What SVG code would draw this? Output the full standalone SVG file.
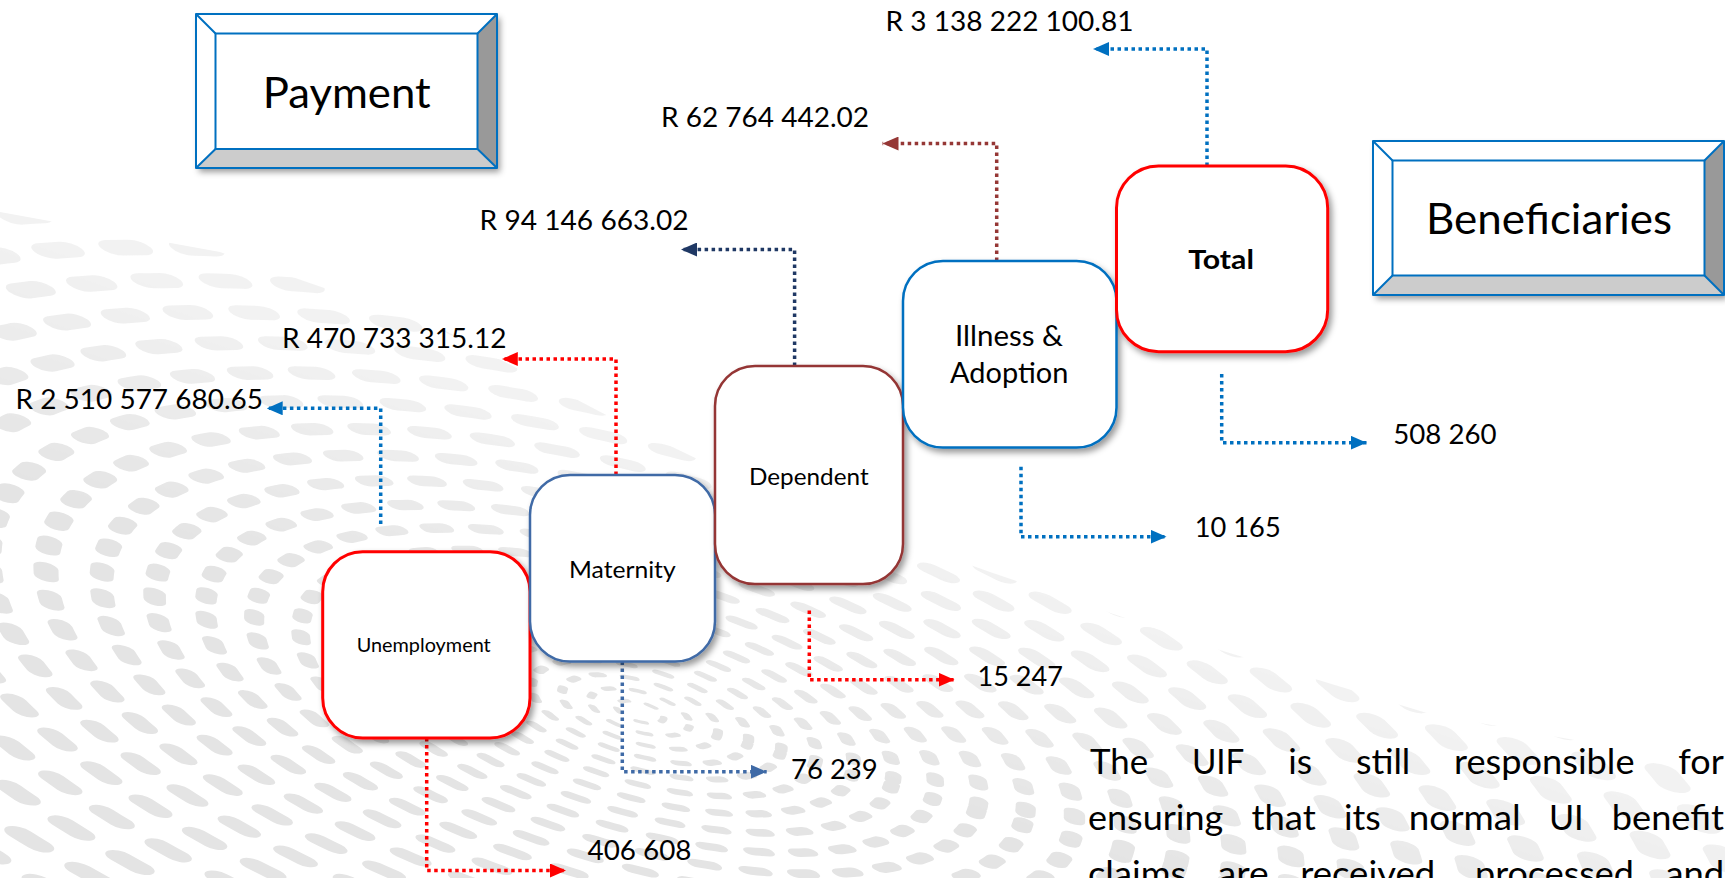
<svg xmlns="http://www.w3.org/2000/svg" width="1725" height="878" viewBox="0 0 1725 878">
<style>
.lbl{font-family:Lato,"Open Sans","Liberation Sans",sans-serif;fill:#000}
.val{font-size:27px}
.par{font-size:34px}
.node{fill:#fff;filter:url(#sh)}
.bev{stroke:#0070C0;stroke-width:2;stroke-linejoin:round}
.con{fill:none;stroke-width:3.5;stroke-dasharray:3.5 3.5}
.ring{fill:none;stroke:#e4e4e4;stroke-linecap:round}
</style>
<defs>
<filter id="sh" x="-20%" y="-20%" width="140%" height="140%">
<feDropShadow dx="3" dy="4" stdDeviation="3" flood-color="#000" flood-opacity="0.4"/>
</filter>
<clipPath id="bgclip">
<polygon points="0,212 220,252 440,328 610,417 770,494 990,572 1210,647 1430,714 1725,767 1725,878 0,878"/>
</clipPath>
<linearGradient id="fadeG" gradientUnits="userSpaceOnUse" x1="900" y1="530" x2="820" y2="760">
<stop offset="0" stop-color="#777"/>
<stop offset="1" stop-color="#fff"/>
</linearGradient>
<mask id="fade"><rect x="0" y="0" width="1725" height="878" fill="url(#fadeG)"/></mask>
<marker id="aBlue" viewBox="0 0 16 14" refX="16" refY="7" markerWidth="16" markerHeight="14" markerUnits="userSpaceOnUse" orient="auto"><path d="M0,0 L16,7 L0,14 z" fill="#0070C0"/></marker>
<marker id="aRed" viewBox="0 0 16 14" refX="16" refY="7" markerWidth="16" markerHeight="14" markerUnits="userSpaceOnUse" orient="auto"><path d="M0,0 L16,7 L0,14 z" fill="#FF0000"/></marker>
<marker id="aSlate" viewBox="0 0 16 14" refX="16" refY="7" markerWidth="16" markerHeight="14" markerUnits="userSpaceOnUse" orient="auto"><path d="M0,0 L16,7 L0,14 z" fill="#3F6AA6"/></marker>
<marker id="aNavy" viewBox="0 0 16 14" refX="16" refY="7" markerWidth="16" markerHeight="14" markerUnits="userSpaceOnUse" orient="auto"><path d="M0,0 L16,7 L0,14 z" fill="#1F3864"/></marker>
<marker id="aBrown" viewBox="0 0 16 14" refX="16" refY="7" markerWidth="16" markerHeight="14" markerUnits="userSpaceOnUse" orient="auto"><path d="M0,0 L16,7 L0,14 z" fill="#953735"/></marker>
</defs>
<rect x="0" y="0" width="1725" height="878" fill="#fff"/>

<g id="background" clip-path="url(#bgclip)" mask="url(#fade)">
<g transform="translate(640 712) rotate(16) scale(2.6 1)">
<circle class="ring" r="9.45" stroke-width="3" stroke-dasharray="3.35 8.2"/>
<circle class="ring" r="19.8" stroke-width="3.5" stroke-dasharray="3.7 8.9"/>
<circle class="ring" r="31.05" stroke-width="4" stroke-dasharray="4.05 9.6"/>
<circle class="ring" r="43.2" stroke-width="4.5" stroke-dasharray="4.4 10.3"/>
<circle class="ring" r="56.25" stroke-width="5" stroke-dasharray="4.75 11"/>
<circle class="ring" r="70.2" stroke-width="5.5" stroke-dasharray="5.1 11.7"/>
<circle class="ring" r="85.05" stroke-width="6" stroke-dasharray="5.45 12.4"/>
<circle class="ring" r="100.8" stroke-width="6.5" stroke-dasharray="5.8 13.1"/>
<circle class="ring" r="117.45" stroke-width="7" stroke-dasharray="6.15 13.8"/>
<circle class="ring" r="135" stroke-width="7.5" stroke-dasharray="6.5 14.5"/>
<circle class="ring" r="153.45" stroke-width="8" stroke-dasharray="6.85 15.2"/>
<circle class="ring" r="172.8" stroke-width="8.5" stroke-dasharray="7.2 15.9"/>
<circle class="ring" r="193.05" stroke-width="9" stroke-dasharray="7.55 16.6"/>
<circle class="ring" r="214.2" stroke-width="9.5" stroke-dasharray="7.9 17.3"/>
<circle class="ring" r="236.25" stroke-width="10" stroke-dasharray="8.25 18"/>
<circle class="ring" r="259.2" stroke-width="10.5" stroke-dasharray="8.6 18.7"/>
<circle class="ring" r="283.05" stroke-width="11" stroke-dasharray="8.95 19.4"/>
<circle class="ring" r="307.8" stroke-width="11.5" stroke-dasharray="9.3 20.1"/>
<circle class="ring" r="333.45" stroke-width="12" stroke-dasharray="9.65 20.8"/>
<circle class="ring" r="360" stroke-width="12.5" stroke-dasharray="10 21.5"/>
<circle class="ring" r="387.45" stroke-width="13" stroke-dasharray="10.35 22.2"/>
<circle class="ring" r="415.8" stroke-width="13.5" stroke-dasharray="10.7 22.9"/>
<circle class="ring" r="445" stroke-width="14" stroke-dasharray="11 23.6"/>
</g>
</g>

<g id="connectors">
<path class="con" stroke="#0070C0" marker-end="url(#aBlue)" d="M380.7,524 V408.3 H266.7"/>
<path class="con" stroke="#FF0000" marker-end="url(#aRed)" d="M426.7,738 V870.5 H566"/>
<path class="con" stroke="#FF0000" marker-end="url(#aRed)" d="M616,475 V359 H501.8"/>
<path class="con" stroke="#3F6AA6" marker-end="url(#aSlate)" d="M622.3,661.5 V771.7 H766.7"/>
<path class="con" stroke="#1F3864" marker-end="url(#aNavy)" d="M794.6,366 V249.5 H681"/>
<path class="con" stroke="#FF0000" marker-end="url(#aRed)" d="M809.3,610.5 V679.7 H954.5"/>
<path class="con" stroke="#953735" marker-end="url(#aBrown)" d="M996.7,261 V143.5 H882.5"/>
<path class="con" stroke="#0070C0" marker-end="url(#aBlue)" d="M1021,466.7 V536.7 H1166.5"/>
<path class="con" stroke="#0070C0" marker-end="url(#aBlue)" d="M1207,166 V49 H1093"/>
<path class="con" stroke="#0070C0" marker-end="url(#aBlue)" d="M1221.7,374 V442.7 H1366.7"/>
</g>

<g id="payment-box">
<g filter="url(#sh)">
<rect x="196" y="14" width="301" height="154" fill="#fff"/>
</g>
<polygon points="196,14 497,14 477.5,33.5 215.5,33.5" fill="#fff"/>
<polygon points="196,14 215.5,33.5 215.5,149 196,168" fill="#fff"/>
<polygon points="497,14 497,168 477.5,149 477.5,33.5" fill="#999"/>
<polygon points="196,168 215.5,149 477.5,149 497,168" fill="#ccc"/>
<rect class="bev" x="196" y="14" width="301" height="154" fill="none"/>
<rect class="bev" x="215.5" y="33.5" width="262" height="115.5" fill="#fff"/>
<path class="bev" d="M196,14 L215.5,33.5 M497,14 L477.5,33.5 M196,168 L215.5,149 M497,168 L477.5,149"/>
<text class="lbl" x="262.7" y="108.3" font-size="42" textLength="168" lengthAdjust="spacingAndGlyphs">Payment</text>
</g>

<g id="beneficiaries-box">
<g filter="url(#sh)">
<rect x="1373" y="141" width="351" height="154" fill="#fff"/>
</g>
<polygon points="1373,141 1724,141 1704.5,160.5 1392.5,160.5" fill="#fff"/>
<polygon points="1373,141 1392.5,160.5 1392.5,275.5 1373,295" fill="#fff"/>
<polygon points="1724,141 1724,295 1704.5,275.5 1704.5,160.5" fill="#999"/>
<polygon points="1373,295 1392.5,275.5 1704.5,275.5 1724,295" fill="#ccc"/>
<rect class="bev" x="1373" y="141" width="351" height="154" fill="none"/>
<rect class="bev" x="1392.5" y="160.5" width="312" height="115" fill="#fff"/>
<path class="bev" d="M1373,141 L1392.5,160.5 M1724,141 L1704.5,160.5 M1373,295 L1392.5,275.5 M1724,295 L1704.5,275.5"/>
<text class="lbl" x="1426" y="234.3" font-size="42" textLength="246" lengthAdjust="spacingAndGlyphs">Beneficiaries</text>
</g>

<g id="node-unemployment">
<rect class="node" x="322.7" y="551.7" width="207.3" height="186.3" rx="40" stroke="#FF0000" stroke-width="3"/>
<text class="lbl" x="356.7" y="652.3" font-size="19.5" textLength="134" lengthAdjust="spacingAndGlyphs">Unemployment</text>
</g>

<g id="node-maternity">
<rect class="node" x="530" y="475" width="185" height="186.5" rx="40" stroke="#3F6AA6" stroke-width="2.5"/>
<text class="lbl" x="569" y="578.3" font-size="23.5" textLength="106.7" lengthAdjust="spacingAndGlyphs">Maternity</text>
</g>

<g id="node-dependent">
<rect class="node" x="715" y="366" width="188" height="218" rx="40" stroke="#943634" stroke-width="2.5"/>
<text class="lbl" x="749" y="485" font-size="23.5" textLength="119.6" lengthAdjust="spacingAndGlyphs">Dependent</text>
</g>

<g id="node-illness">
<rect class="node" x="903" y="261" width="213.5" height="186.5" rx="40" stroke="#0070C0" stroke-width="2.5"/>
<text class="lbl" x="955" y="346" font-size="28" textLength="108" lengthAdjust="spacingAndGlyphs">Illness &amp;</text>
<text class="lbl" x="950" y="382.7" font-size="28" textLength="118.3" lengthAdjust="spacingAndGlyphs">Adoption</text>
</g>

<g id="node-total">
<rect class="node" x="1116.5" y="166" width="211.2" height="185.7" rx="42" stroke="#FF0000" stroke-width="3"/>
<text class="lbl" x="1188.3" y="269.3" font-size="27" font-weight="bold" textLength="65.7" lengthAdjust="spacingAndGlyphs">Total</text>
</g>

<g id="values">
<text class="lbl val" x="885.5" y="30.7" textLength="248" lengthAdjust="spacingAndGlyphs">R 3 138 222 100.81</text>
<text class="lbl val" x="661" y="126.7" textLength="208" lengthAdjust="spacingAndGlyphs">R 62 764 442.02</text>
<text class="lbl val" x="479.6" y="229.5" textLength="209" lengthAdjust="spacingAndGlyphs">R 94 146 663.02</text>
<text class="lbl val" x="282" y="347.7" textLength="224.5" lengthAdjust="spacingAndGlyphs">R 470 733 315.12</text>
<text class="lbl val" x="15.5" y="409" textLength="247.5" lengthAdjust="spacingAndGlyphs">R 2 510 577 680.65</text>
<text class="lbl val" x="1393.3" y="444.3" textLength="103.3" lengthAdjust="spacingAndGlyphs">508 260</text>
<text class="lbl val" x="1194.7" y="537.3" textLength="86" lengthAdjust="spacingAndGlyphs">10 165</text>
<text class="lbl val" x="977.5" y="686.3" textLength="85.5" lengthAdjust="spacingAndGlyphs">15 247</text>
<text class="lbl val" x="791" y="779.3" textLength="86.7" lengthAdjust="spacingAndGlyphs">76 239</text>
<text class="lbl val" x="587.5" y="860" textLength="104" lengthAdjust="spacingAndGlyphs">406 608</text>
</g>

<g id="paragraph" class="lbl par">
<text x="1090" y="774.3" textLength="58.1" lengthAdjust="spacingAndGlyphs">The</text>
<text x="1191.9" y="774.3" textLength="52.5" lengthAdjust="spacingAndGlyphs">UIF</text>
<text x="1288.2" y="774.3" textLength="23.9" lengthAdjust="spacingAndGlyphs">is</text>
<text x="1355.9" y="774.3" textLength="54.4" lengthAdjust="spacingAndGlyphs">still</text>
<text x="1454.1" y="774.3" textLength="180.4" lengthAdjust="spacingAndGlyphs">responsible</text>
<text x="1678.3" y="774.3" textLength="45.5" lengthAdjust="spacingAndGlyphs">for</text>
<text x="1088" y="830" textLength="135.3" lengthAdjust="spacingAndGlyphs">ensuring</text>
<text x="1251.4" y="830" textLength="64.4" lengthAdjust="spacingAndGlyphs">that</text>
<text x="1343.9" y="830" textLength="36.8" lengthAdjust="spacingAndGlyphs">its</text>
<text x="1408.8" y="830" textLength="112" lengthAdjust="spacingAndGlyphs">normal</text>
<text x="1548.9" y="830" textLength="34.8" lengthAdjust="spacingAndGlyphs">UI</text>
<text x="1611.8" y="830" textLength="112.2" lengthAdjust="spacingAndGlyphs">benefit</text>
<text x="1088" y="886" textLength="98.2" lengthAdjust="spacingAndGlyphs">claims</text>
<text x="1217.7" y="886" textLength="51" lengthAdjust="spacingAndGlyphs">are</text>
<text x="1300.2" y="886" textLength="143.3" lengthAdjust="spacingAndGlyphs">received,</text>
<text x="1475" y="886" textLength="158.9" lengthAdjust="spacingAndGlyphs">processed</text>
<text x="1665.4" y="886" textLength="58.9" lengthAdjust="spacingAndGlyphs">and</text>
</g>
</svg>
